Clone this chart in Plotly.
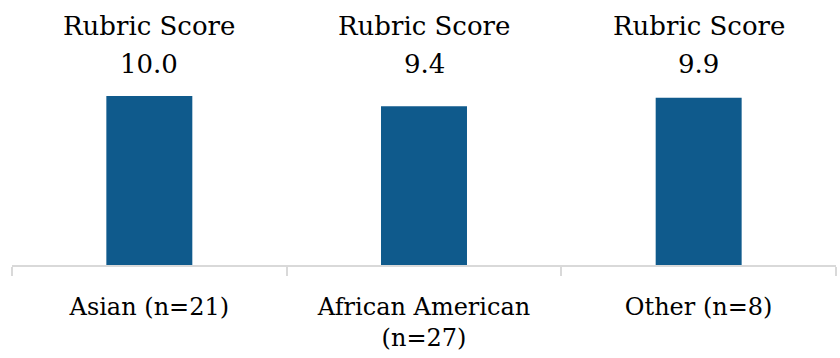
import plotly.graph_objects as go

categories = ["Asian (n=21)", "African American<br>(n=27)", "Other (n=8)"]
scores = [10.0, 9.4, 9.9]
label_prefix = "Rubric Score"

BAR_COLOR = "#0F5A8C"
FONT = "DejaVu Serif"
FS_TICK = 24
FS_LABEL = 26

fig = go.Figure()
fig.add_trace(go.Bar(x=categories, y=scores, marker=dict(color=BAR_COLOR, line=dict(width=0)),
                     hoverinfo="skip"))

for c, v in zip(categories, scores):
    fig.add_annotation(x=c, xref="x", y=0.936, yref="paper", yanchor="middle",
                       text=label_prefix, showarrow=False,
                       font=dict(family=FONT, size=FS_LABEL, color="#000000"))
    fig.add_annotation(x=c, xref="x", y=0.787, yref="paper", yanchor="middle",
                       text=f"{v:.1f}", showarrow=False,
                       font=dict(family=FONT, size=FS_LABEL, color="#000000"))

fig.update_layout(
    width=840, height=358,
    margin=dict(l=12, r=4, t=10, b=93),
    paper_bgcolor="white", plot_bgcolor="white",
    bargap=0.687,
    showlegend=False,
    font=dict(family=FONT, size=FS_TICK, color="#000000"),
    xaxis=dict(showline=True, linecolor="#D9D9D9", linewidth=2,
               ticks="outside", tickson="boundaries", ticklen=9, tickcolor="#D9D9D9", tickwidth=2,
               ticklabelstandoff=19,
               showgrid=False, tickfont=dict(family=FONT, size=FS_TICK, color="#000000")),
    yaxis=dict(range=[0, 15.09], visible=False, showgrid=False),
)

fig.write_html("out.html")
